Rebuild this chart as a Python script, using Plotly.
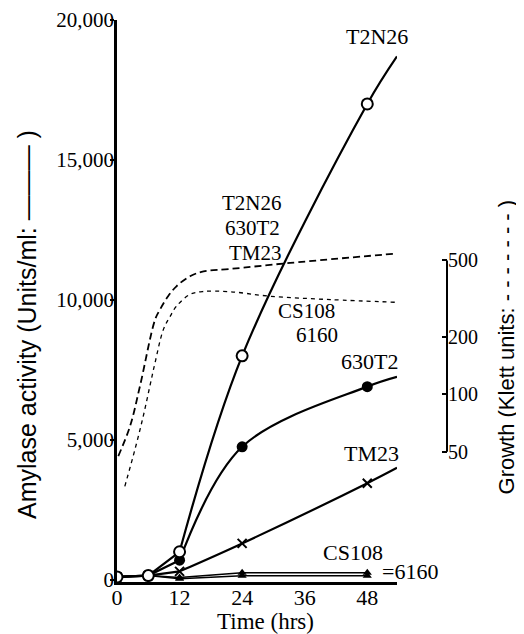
import plotly.graph_objects as go

# ---------------- data ----------------
hours = [0, 6, 12, 24, 48]
t_last = 53.7  # where the drawn amylase curves end

amy_T2N26 = [100, 150, 1000, 8000, 17000]
amy_630T2 = [100, 150, 700, 4750, 6900]
amy_TM23 = [100, 150, 300, 1300, 3450]
amy_CS108 = [100, 150, 80, 250, 250]
amy_6160 = [100, 150, 40, 140, 140]
amy_end = {"T2N26": 18700, "630T2": 7250, "TM23": 4000}

growth_hi_t = [0.25, 2.5, 4.4, 7.3, 8.25, 9.8, 11.4, 14.0, 16.6, 21.7, 33.2, 53.6]
growth_hi = [47.5, 68, 110, 245, 277, 325, 366, 413, 438, 451, 485, 543]
growth_lo_t = [1.5, 3.45, 5.05, 6.3, 7.3, 8.9, 10.2, 11.4, 14.0, 16.6, 21.7, 29.3, 40.9, 53.6]
growth_lo = [33, 51.5, 77, 110, 146, 218, 255, 288, 332, 344, 343, 325, 312, 302]

x_ticks = [0, 12, 24, 36, 48]
y_ticks = [0, 5000, 10000, 15000, 20000]
y_ticktext = ["0", "5,000", "10,000", "15,000", "20,000"]
g_ticks = [50, 100, 200, 500]
g_ticktext = ["50", "100", "200", "500"]

SERIF = "Liberation Serif"
SANS = "Liberation Sans"
INK = "black"

fig = go.Figure()

# ---------------- growth (dashed, right log axis) ----------------
fig.add_trace(go.Scatter(x=growth_hi_t, y=growth_hi, yaxis="y2", mode="lines",
                         line=dict(color=INK, width=1.8, dash="7px,4px", shape="spline", smoothing=1.0),
                         showlegend=False, hoverinfo="skip"))
fig.add_trace(go.Scatter(x=growth_lo_t, y=growth_lo, yaxis="y2", mode="lines",
                         line=dict(color=INK, width=1.3, dash="4px,4px", shape="spline", smoothing=1.0),
                         showlegend=False, hoverinfo="skip"))

# ---------------- amylase (solid) ----------------
def add_series(vals, end, marker, lw=2.2):
    if end is None:
        fig.add_trace(go.Scatter(x=hours, y=vals, mode="lines",
                                 line=dict(color=INK, width=lw),
                                 showlegend=False, hoverinfo="skip"))
    else:
        fig.add_trace(go.Scatter(x=hours[:3], y=vals[:3], mode="lines",
                                 line=dict(color=INK, width=lw),
                                 showlegend=False, hoverinfo="skip"))
        fig.add_trace(go.Scatter(x=hours[2:] + [t_last], y=vals[2:] + [end], mode="lines",
                                 line=dict(color=INK, width=lw, shape="spline", smoothing=1.0),
                                 showlegend=False, hoverinfo="skip"))
    fig.add_trace(go.Scatter(x=hours, y=vals, mode="markers", marker=marker,
                             showlegend=False, hoverinfo="skip"))

add_series(amy_6160, None, dict(symbol="triangle-up", size=8, color=INK), lw=1.5)
add_series(amy_CS108, None, dict(symbol="triangle-up", size=8, color=INK), lw=1.5)
add_series(amy_TM23, amy_end["TM23"],
           dict(symbol="x-thin", size=9, color=INK, line=dict(color=INK, width=2)))
add_series(amy_630T2, amy_end["630T2"], dict(symbol="circle", size=11, color=INK))
add_series(amy_T2N26, amy_end["T2N26"],
           dict(symbol="circle", size=11, color="white", line=dict(color=INK, width=2)))

# ---------------- labels ----------------
def label(text, x, y, anchor="center", size=22):
    fig.add_annotation(text=text, x=x, y=y, xref="x", yref="y", showarrow=False,
                       xanchor=anchor, yanchor="middle",
                       font=dict(family=SERIF, size=size, color=INK))

label("T2N26", 49.9, 19393)
label("630T2", 48.5, 7781)
label("TM23", 48.9, 4529)
label("CS108", 45.3, 992)
label("=6160", 50.4, 313, anchor="left")
label("T2N26", 25.9, 13444, size=21)
label("630T2", 25.9, 12568, size=21)
label("TM23", 26.5, 11693, size=21)
label("CS108", 36.4, 9603, size=21)
label("6160", 38.4, 8745, size=21)

# axis titles
fig.add_annotation(text="Amylase activity (Units/ml: ——— )", textangle=-90,
                   xref="paper", yref="paper", x=0, y=0.4573, xshift=-90,
                   xanchor="center", yanchor="middle", showarrow=False,
                   font=dict(family=SANS, size=25, color=INK))
fig.add_annotation(text="Growth (Klett units: - - - - - - - )", textangle=-90,
                   xref="paper", yref="paper", x=1.1788, y=0.4173,
                   xanchor="center", yanchor="middle", showarrow=False,
                   font=dict(family=SANS, size=22, color=INK))
fig.add_annotation(text="Time (hrs)", xref="paper", yref="paper", x=0.4485, y=-0.0694,
                   xanchor="center", yanchor="middle", showarrow=False,
                   font=dict(family=SERIF, size=23, color=INK))

# right axis spine (only 50..500)
fig.add_shape(type="line", xref="paper", x0=1, x1=1, yref="y2",
              y0=g_ticks[0], y1=g_ticks[-1],
              line=dict(color=INK, width=2))

# the page body adds an 8px offset, so margins are reduced by 8px on the top/left
fig.update_layout(
    template="none",
    width=524, height=634,
    margin=dict(l=109, r=85, t=12, b=60, autoexpand=False),
    paper_bgcolor="white", plot_bgcolor="white",
    showlegend=False,
    xaxis=dict(domain=[0, 280 / 330], range=[0, t_last], tickvals=x_ticks, automargin=False,
               showgrid=False, zeroline=False, showline=True, linecolor=INK, linewidth=2.5,
               ticks="", ticklabelstandoff=-6, ticklabeloverflow="allow",
               tickfont=dict(family=SERIF, size=22, color=INK)),
    yaxis=dict(range=[-80, 20000], tickvals=y_ticks, ticktext=y_ticktext, automargin=False,
               showgrid=False, zeroline=False, showline=True, linecolor=INK, linewidth=2.5,
               ticks="outside", ticklen=4, tickwidth=1.5, tickcolor=INK, ticklabelstandoff=-8,
               ticklabeloverflow="allow",
               tickfont=dict(family=SERIF, size=21, color=INK)),
    yaxis2=dict(type="log", overlaying="y", anchor="free", position=1, side="right",
                range=[1.0185, 3.955], tickvals=g_ticks, ticktext=g_ticktext, automargin=False,
                showgrid=False, zeroline=False, showline=False,
                ticks="inside", ticklen=5, tickwidth=1.5, tickcolor=INK,
                ticklabeloverflow="allow",
                tickfont=dict(family=SERIF, size=20, color=INK)),
)

fig.write_html("out.html")
